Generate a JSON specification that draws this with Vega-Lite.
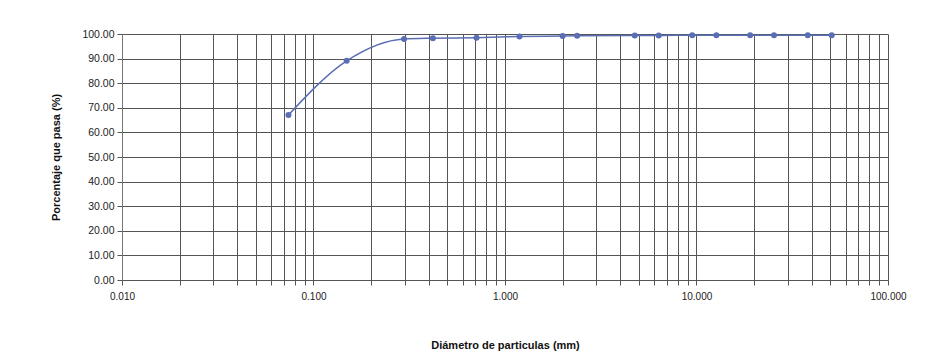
{
  "$schema": "https://vega.github.io/schema/vega-lite/v6.json",
  "width": 766,
  "height": 246,
  "autosize": "none",
  "padding": {"left": 122, "top": 34, "right": 45, "bottom": 81},
  "background": "white",
  "config": {"view": {"stroke": null}, "font": "Liberation Sans"},
  "data": {
    "values": [
      {"d": 0.074, "p": 67.1},
      {"d": 0.149, "p": 89.1},
      {"d": 0.297, "p": 98.0},
      {"d": 0.42, "p": 98.3},
      {"d": 0.71, "p": 98.5},
      {"d": 1.19, "p": 99.0},
      {"d": 2.0, "p": 99.2},
      {"d": 2.38, "p": 99.3},
      {"d": 4.76, "p": 99.4},
      {"d": 6.35, "p": 99.4},
      {"d": 9.5, "p": 99.5},
      {"d": 12.7, "p": 99.5},
      {"d": 19.05, "p": 99.5},
      {"d": 25.4, "p": 99.5},
      {"d": 38.1, "p": 99.5},
      {"d": 50.8, "p": 99.5}
    ]
  },
  "mark": {"type": "line", "interpolate": "monotone", "color": "#5a6eb4", "strokeWidth": 1.5, "point": {"filled": true, "size": 36, "color": "#5a6eb4"}},
  "encoding": {
    "x": {
      "field": "d",
      "type": "quantitative",
      "scale": {"type": "log", "domain": [0.01, 100], "nice": false},
      "axis": {
        "values": [0.01, 0.02, 0.03, 0.04, 0.05, 0.06, 0.07, 0.08, 0.09, 0.1, 0.2, 0.3, 0.4, 0.5, 0.6, 0.7, 0.8, 0.9, 1, 2, 3, 4, 5, 6, 7, 8, 9, 10, 20, 30, 40, 50, 60, 70, 80, 90, 100],
        "format": ".3f",
        "labelExpr": "abs(log(datum.value)/LN10 - round(log(datum.value)/LN10)) < 0.000001 ? datum.label : ''",
        "grid": true,
        "gridColor": "#555555",
        "gridWidth": 1,
        "domainColor": "#555555",
        "tickColor": "#555555",
        "tickSize": 5,
        "labelPadding": 6,
        "labelFontSize": 10,
        "labelColor": "#222222",
        "labelFlush": false,
        "title": "Diámetro de particulas (mm)",
        "titleFontSize": 11,
        "titleFontWeight": "bold",
        "titleColor": "#111111",
        "titlePadding": 38
      }
    },
    "y": {
      "field": "p",
      "type": "quantitative",
      "scale": {"domain": [0, 100], "nice": false},
      "axis": {
        "values": [0, 10, 20, 30, 40, 50, 60, 70, 80, 90, 100],
        "format": ".2f",
        "grid": true,
        "gridColor": "#555555",
        "gridWidth": 1,
        "domainColor": "#777777",
        "tickColor": "#555555",
        "tickSize": 5,
        "labelPadding": 3,
        "labelFontSize": 10.5,
        "labelColor": "#222222",
        "title": "Porcentaje que pasa (%)",
        "titleFontSize": 11,
        "titleFontWeight": "bold",
        "titleColor": "#111111",
        "titlePadding": 20
      }
    }
  }
}
